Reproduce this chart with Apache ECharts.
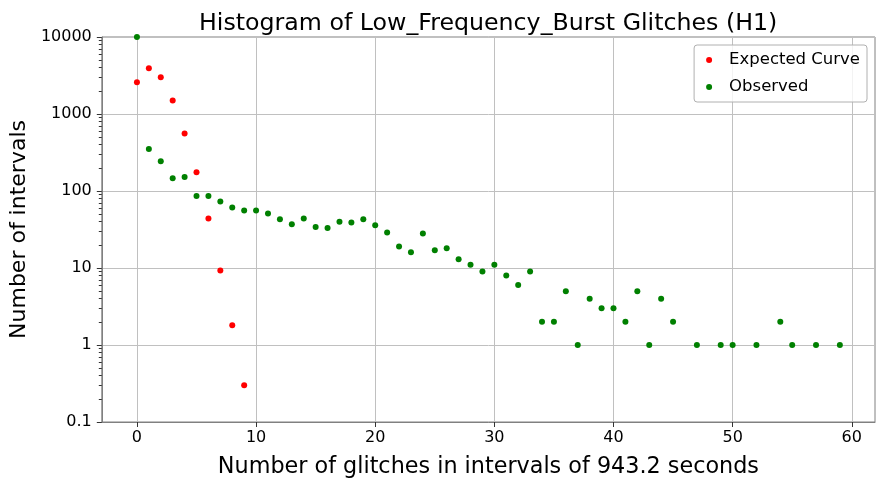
<!DOCTYPE html>
<html>
<head>
<meta charset="utf-8">
<script src="https://cdn.jsdelivr.net/npm/echarts@6/dist/echarts.min.js"></script>
<style>
html,body{margin:0;padding:0;background:#fff;}
#main{width:885px;height:486px;}
</style>
</head>
<body>
<div id="main"></div>
<script>
const titleText = 'Histogram of Low_Frequency_Burst Glitches (H1)';
const xAxisName = 'Number of glitches in intervals of 943.2 seconds';
const yAxisName = 'Number of intervals';
const seriesNames = ['Expected Curve', 'Observed'];

const expectedX = [0, 1, 2, 3, 4, 5, 6, 7, 8, 9];
const expectedY = [2580, 3920, 3000, 1500, 560, 175, 44, 9.3, 1.8, 0.3];

const observedX = [0, 1, 2, 3, 4, 5, 6, 7, 8, 9, 10, 11, 12, 13, 14, 15, 16, 17, 18, 19,
  20, 21, 22, 23, 24, 25, 26, 27, 28, 29, 30, 31, 32, 33, 34, 35, 36, 37, 38, 39,
  40, 41, 42, 43, 44, 45, 47, 49, 50, 52, 54, 55, 57, 59];
const observedY = [10000, 350, 243, 146, 152, 86, 86, 73, 61, 56, 56, 51, 43, 37, 44, 34, 33, 40, 39, 43,
  36, 29, 19, 16, 28, 17, 18, 13, 11, 9, 11, 8, 6, 9, 2, 2, 5, 1, 4, 3,
  3, 2, 5, 1, 4, 2, 1, 1, 1, 1, 2, 1, 1, 1];

const xTicks = [0, 10, 20, 30, 40, 50, 60];
const xMin = -2.95, xMax = 61.95;
const yMin = 0.1, yMax = 10000;

const font = 'DejaVu Sans';
const chart = echarts.init(document.getElementById('main'), null, {renderer: 'canvas'});

function pairs(xs, ys) { return xs.map((x, i) => [x, ys[i]]); }

chart.setOption({
  animation: false,
  backgroundColor: '#ffffff',
  textStyle: {fontFamily: font},
  title: {
    text: titleText,
    left: 194,
    top: 7,
    textStyle: {fontFamily: font, fontSize: 23.7, fontWeight: 'normal', color: '#000'}
  },
  grid: {
    left: 100, right: 10, top: 37, bottom: 64,
    show: true, borderColor: '#808080', borderWidth: 1, backgroundColor: 'transparent'
  },
  legend: {
    orient: 'vertical',
    right: 18,
    top: 45,
    data: seriesNames,
    icon: 'circle',
    itemWidth: 30,
    itemHeight: 6,
    itemGap: 9,
    padding: [6, 7, 6, 12],
    borderColor: '#b0b0b0',
    borderWidth: 1,
    borderRadius: 3,
    backgroundColor: 'rgba(255,255,255,0.8)',
    textStyle: {fontFamily: font, fontSize: 16.5, color: '#000', lineHeight: 18}
  },
  xAxis: {
    type: 'value',
    min: xMin,
    max: xMax,
    name: xAxisName,
    nameLocation: 'middle',
    nameGap: 34,
    nameTextStyle: {fontFamily: font, fontSize: 22.3, color: '#000'},
    axisLine: {show: true, onZero: false, lineStyle: {color: '#808080', width: 1}},
    axisTick: {show: true, length: 5, customValues: xTicks, lineStyle: {color: '#333'}},
    axisLabel: {customValues: xTicks, margin: 8, fontFamily: font, fontSize: 16, color: '#000'},
    splitLine: {show: true, lineStyle: {color: '#c0c0c0', width: 1}}
  },
  yAxis: {
    type: 'log',
    logBase: 10,
    min: yMin,
    max: yMax,
    name: yAxisName,
    nameLocation: 'middle',
    nameGap: 69,
    nameTextStyle: {fontFamily: font, fontSize: 22, color: '#000'},
    axisLine: {show: true, onZero: false, lineStyle: {color: '#808080', width: 1}},
    axisTick: {show: true, inside: false, length: 5, lineStyle: {color: '#333'}},
    minorTick: {show: true, splitNumber: 9, length: 3, lineStyle: {color: '#333'}},
    axisLabel: {
      margin: 10, fontFamily: font, fontSize: 16, color: '#000',
      formatter: v => String(Number(Number(v).toPrecision(6)))
    },
    splitLine: {show: true, lineStyle: {color: '#c0c0c0', width: 1}}
  },
  series: [
    {
      name: seriesNames[0],
      type: 'scatter',
      data: pairs(expectedX, expectedY),
      symbolSize: 6,
      itemStyle: {color: '#ff0000', opacity: 1}
    },
    {
      name: seriesNames[1],
      type: 'scatter',
      data: pairs(observedX, observedY),
      symbolSize: 6,
      itemStyle: {color: '#008000', opacity: 1}
    }
  ]
});
</script>
</body>
</html>
